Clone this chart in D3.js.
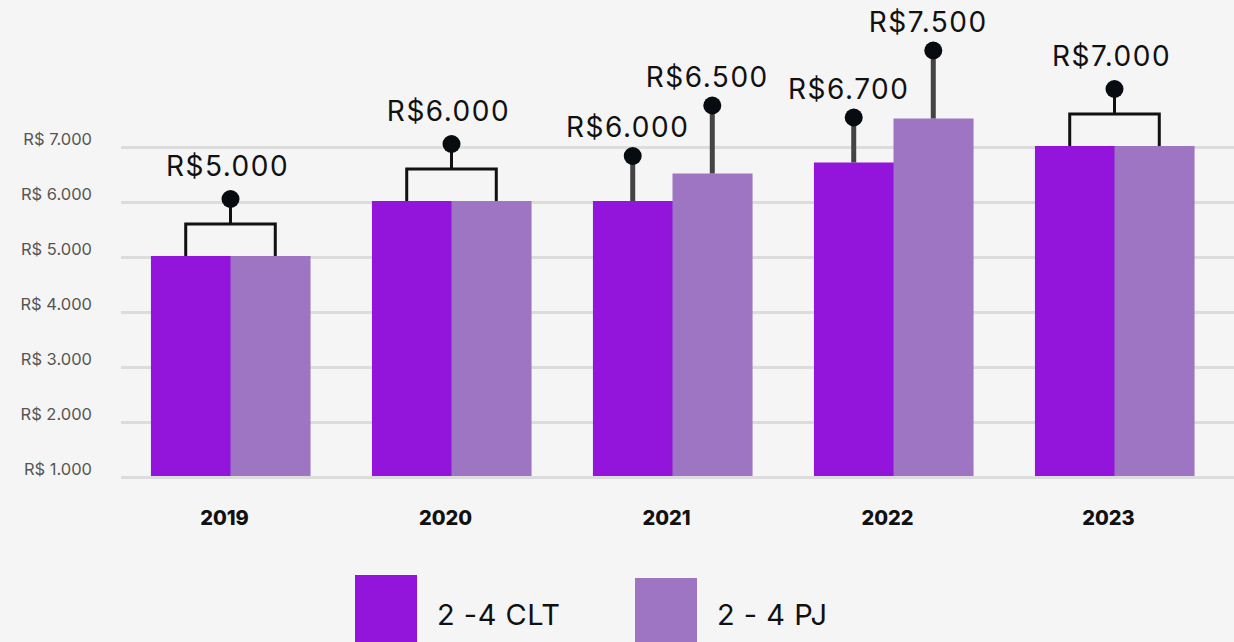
<!DOCTYPE html>
<html lang="pt-BR">
<head>
<meta charset="UTF-8">
<title>Salário 2-4 anos</title>
<script src="https://cdn.jsdelivr.net/npm/d3@7"></script>
<style>
  html, body { margin:0; padding:0; background:#f5f5f5; }
  #chart { width:1234px; height:642px; overflow:hidden; }
  text { font-family: Inter, "Noto Sans", sans-serif; }
  .tick-label { font-size:16.5px; fill:#555; }
  .year { font-size:20px; font-weight:800; fill:#111; }
  .ann { font-size:28px; fill:#111; letter-spacing:1.5px; }
  .legend-text { font-size:29px; fill:#111; letter-spacing:0.5px; }
</style>
</head>
<body>
<div id="chart"></div>
<script>
// dados
var years = ["2019", "2020", "2021", "2022", "2023"];
var clt   = [5000, 6000, 6000, 6700, 7000];
var pj    = [5000, 6000, 6500, 7500, 7000];
var yTicks = [1000, 2000, 3000, 4000, 5000, 6000, 7000];
var seriesNames  = ["2 -4 CLT", "2 - 4 PJ"];
var seriesColors = ["#9314db", "#9e75c2"];

var width = 1234, height = 642;

var fmt = function(v){ return d3.format(",")(v).replace(/,/g, "."); };

var x = d3.scaleBand()
    .domain(years)
    .range([120, 1225])
    .paddingInner(0.28)
    .paddingOuter(0.14);

var xSub = d3.scaleBand()
    .domain([0, 1])
    .range([0, x.bandwidth()]);

var y = d3.scaleLinear()
    .domain([1000, 7000])
    .range([476, 146]);

var svg = d3.select("#chart").append("svg")
    .attr("width", width)
    .attr("height", height);

// grid
svg.append("g")
    .selectAll("line")
    .data(yTicks)
    .enter().append("line")
    .attr("x1", 121).attr("x2", width)
    .attr("y1", function(d){ return y(d) + 1.5; })
    .attr("y2", function(d){ return y(d) + 1.5; })
    .attr("stroke", "#dcdcdc")
    .attr("stroke-width", 3);

// eixo y
svg.append("g")
    .selectAll("text")
    .data(yTicks)
    .enter().append("text")
    .attr("class", "tick-label")
    .attr("x", 92)
    .attr("y", function(d){ return y(d) - 1; })
    .attr("text-anchor", "end")
    .text(function(d){ return "R$ " + fmt(d); });

// barras
var rows = years.map(function(yr, i){ return {year: yr, values: [clt[i], pj[i]]}; });

var groups = svg.selectAll("g.grp")
    .data(rows)
    .enter().append("g")
    .attr("class", "grp")
    .attr("transform", function(d){ return "translate(" + x(d.year) + ",0)"; });

groups.selectAll("rect")
    .data(function(d){ return d.values; })
    .enter().append("rect")
    .attr("x", function(d, i){ return xSub(i); })
    .attr("width", xSub.bandwidth() + 0.5)
    .attr("y", function(d){ return y(d); })
    .attr("height", function(d){ return y(1000) - y(d); })
    .attr("fill", function(d, i){ return seriesColors[i]; });

// anotações
groups.each(function(d){
  var g = d3.select(this);
  var a = d.values[0], b = d.values[1];
  if (a === b) {
    // colchete para valores iguais
    var top = y(a);
    var c = x.bandwidth() / 2;
    var l = xSub(0) + xSub.bandwidth() / 2 - 5, r = xSub(1) + xSub.bandwidth() / 2 + 5;
    g.append("path")
      .attr("d", "M" + l + "," + top + "V" + (top - 32) + "H" + r + "V" + top)
      .attr("fill", "none").attr("stroke", "#111").attr("stroke-width", 3);
    g.append("line")
      .attr("x1", c).attr("x2", c)
      .attr("y1", top - 32).attr("y2", top - 57)
      .attr("stroke", "#111").attr("stroke-width", 3);
    g.append("circle").attr("cx", c).attr("cy", top - 57).attr("r", 9).attr("fill", "#080c10");
    g.append("text").attr("class", "ann")
      .attr("x", c - 3).attr("y", top - 80)
      .attr("text-anchor", "middle")
      .text("R$" + fmt(a));
  } else {
    // pirulitos separados
    d.values.forEach(function(v, i){
      var other = d.values[1 - i];
      var stem = v > other ? 68 : 45;
      var cx = xSub(i) + xSub.bandwidth() / 2;
      var top = y(v);
      g.append("line")
        .attr("x1", cx).attr("x2", cx)
        .attr("y1", top).attr("y2", top - stem)
        .attr("stroke", "#444").attr("stroke-width", 5);
      g.append("circle").attr("cx", cx).attr("cy", top - stem).attr("r", 9).attr("fill", "#080c10");
      g.append("text").attr("class", "ann")
        .attr("x", cx - 5).attr("y", top - stem - 19)
        .attr("text-anchor", "middle")
        .text("R$" + fmt(v));
    });
  }
});

// rótulos do eixo x
svg.append("g")
    .selectAll("text")
    .data(years)
    .enter().append("text")
    .attr("class", "year")
    .attr("x", function(d){ return x(d) + x.bandwidth() / 2 - 6; })
    .attr("y", 525)
    .attr("text-anchor", "middle")
    .text(function(d){ return d; });

// legenda
var legX = [355, 635];
var legend = svg.selectAll("g.leg")
    .data(seriesNames)
    .enter().append("g")
    .attr("class", "leg")
    .attr("transform", function(d, i){ return "translate(" + legX[i] + "," + (575 + i * 3) + ")"; });

legend.append("rect")
    .attr("width", 62).attr("height", 70)
    .attr("fill", function(d, i){ return seriesColors[i]; });

legend.append("text")
    .attr("class", "legend-text")
    .attr("x", 82)
    .attr("y", function(d, i){ return 50 - i * 3; })
    .text(function(d){ return d; });
</script>
</body>
</html>
